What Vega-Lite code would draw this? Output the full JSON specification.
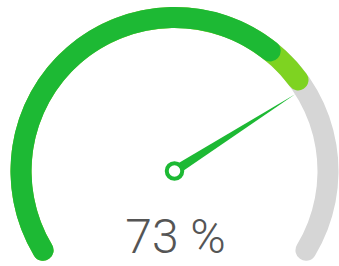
{
  "$schema": "https://vega.github.io/schema/vega-lite/v6.json",
  "width": 329,
  "height": 190,
  "autosize": {"type": "none"},
  "padding": {"left": 10, "top": 76, "right": 0, "bottom": 0},
  "background": "white",
  "view": {"stroke": null},
  "datasets": {
    "bands": [
      {"part": "track", "start": 0, "end": 100},
      {"part": "progress", "start": 0, "end": 73},
      {"part": "fill", "start": 0, "end": 67}
    ],
    "reading": [
      {"value": 73, "label": "73 %"}
    ]
  },
  "layer": [
    {
      "data": {"name": "bands"},
      "mark": {"type": "arc", "radius": 164, "radius2": 143, "cornerRadius": 10.5},
      "encoding": {
        "theta": {"field": "start", "type": "quantitative", "stack": null, "scale": {"domain": [0, 100], "range": [-2.1817, 2.1817]}},
        "theta2": {"field": "end"},
        "color": {"field": "part", "type": "nominal", "legend": null, "sort": null,
          "scale": {"domain": ["track", "progress", "fill"], "range": ["#d6d6d6", "#7ed321", "#1db934"]}}
      }
    },
    {
      "data": {"name": "reading"},
      "mark": {"type": "point", "filled": true, "opacity": 1, "color": "#1db934",
        "shape": "M -0.034 0 L 0 -1 L 0.034 0 Z", "size": 81796},
      "encoding": {
        "angle": {"field": "value", "type": "quantitative", "scale": {"domain": [0, 100], "range": [-125, 125]}}
      }
    },
    {
      "data": {"name": "reading"},
      "mark": {"type": "point", "shape": "circle", "filled": true, "opacity": 1, "fill": "white", "stroke": "#1db934", "strokeWidth": 4, "size": 240},
      "encoding": {}
    },
    {
      "data": {"name": "reading"},
      "mark": {"type": "text", "font": "Roboto", "fontSize": 48, "fontWeight": 300, "color": "#555555", "baseline": "bottom", "align": "center", "dy": 92, "dx": 1},
      "encoding": {"text": {"field": "label"}}
    }
  ]
}
